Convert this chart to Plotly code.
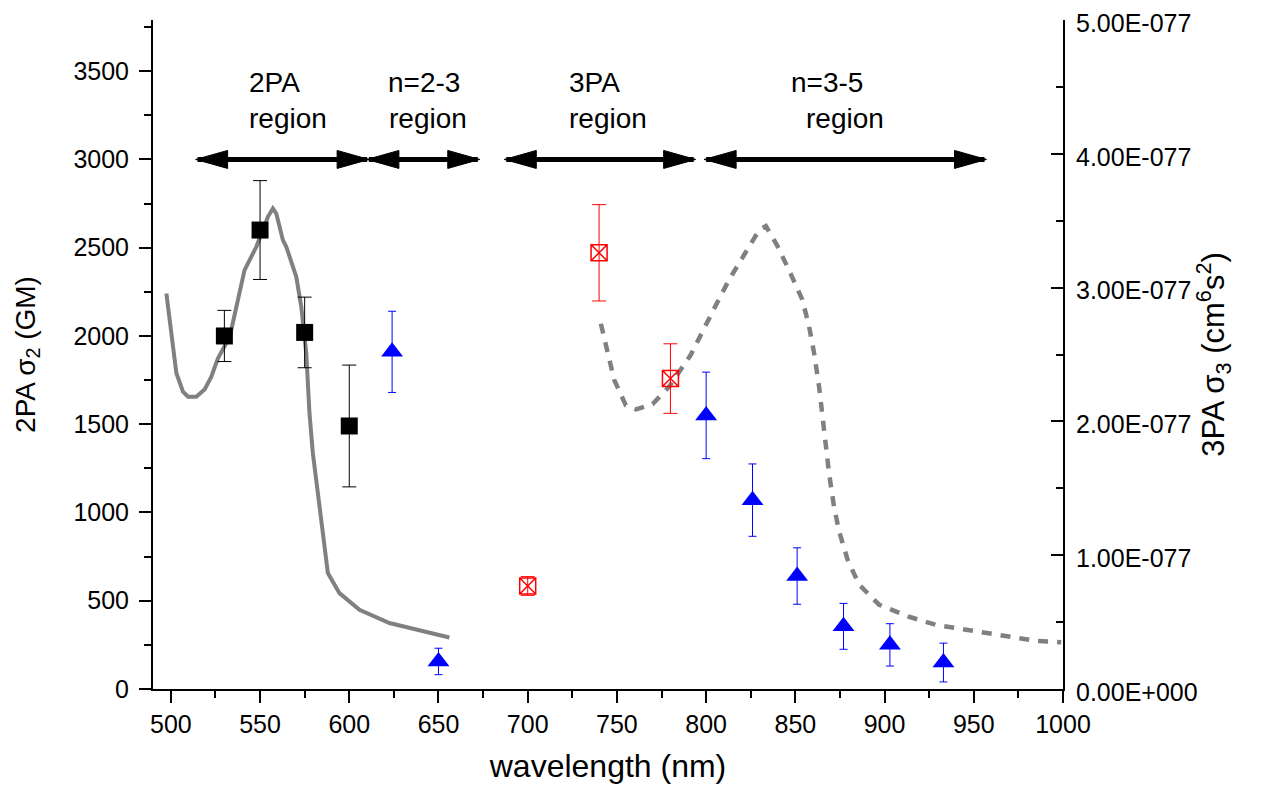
import plotly.graph_objects as go

# 2PA cross sections (GM), left axis
wl_2pa = [530, 550, 575, 600]
s2_2pa = [2000, 2600, 2020, 1490]
s2_2pa_err = [145, 280, 200, 345]

# intermediate region points (blue triangles), left axis
wl_mix = [624, 650, 800, 826, 851, 877, 903, 933]
s2_mix = [1910, 156, 1550, 1070, 640, 355, 250, 150]
s2_mix_err = [230, 75, 245, 205, 160, 130, 120, 110]

# 3PA cross sections, right axis (units of 1e-77 cm^6 s^2)
wl_3pa = [700, 740, 780]
s3_3pa = [0.77, 3.26, 2.32]
s3_3pa_err = [0.07, 0.36, 0.26]

# 2PA spectrum (solid grey line), left axis
spec2_wl = [497.5, 500.3, 503.1, 506.8, 509.6, 514.3, 519.0, 522.7, 526.4, 533.0,
            541.3, 547.9, 554.4, 557.2, 559.1, 562.8, 564.7, 570.3, 573.1, 575.9,
            577.7, 579.6, 581.5, 584.3, 588.0, 594.5, 605.7, 622.5, 637.5, 656.1]
spec2_val = [2241, 2034, 1789, 1684, 1656, 1656, 1698, 1769, 1873, 1996,
             2373, 2505, 2675, 2722, 2694, 2543, 2505, 2335, 2165, 1902,
             1562, 1336, 1185, 920, 657, 543, 449, 374, 336, 292]

# 3PA spectrum (dashed grey line), right axis
spec3_wl = [741, 744.8, 748.5, 755, 760.7, 770, 779.3, 791.5, 798, 805.5,
            812.9, 822.3, 829.7, 833.5, 840, 847.5, 853.9, 857.7, 860.5, 863.3,
            866.1, 868.9, 871.7, 874.5, 879.2, 885.7, 896.9, 913.7, 928.6, 941.7,
            956.6, 970.6, 984.6, 999]
spec3_val = [2.73, 2.51, 2.31, 2.12, 2.09, 2.13, 2.26, 2.50, 2.68, 2.87,
             3.06, 3.26, 3.43, 3.46, 3.31, 3.10, 2.91, 2.71, 2.51, 2.26,
             1.91, 1.61, 1.36, 1.18, 0.97, 0.78, 0.63, 0.54, 0.48, 0.45,
             0.42, 0.39, 0.36, 0.35]

# region arrows at 3000 GM and their two-line labels
region_names = ["2PA", "n=2-3", "3PA", "n=3-5"]
region_start = [515, 611, 688, 800]
region_end = [610, 672, 793, 956]
name_x = [542.5, 620.3, 722.2, 846.4]
word_x = [542.5, 621.4, 722.2, 854.8]
arrow_y = 3000
name_y = 3437
word_y = 3233

y2_ticks = [0, 1, 2, 3, 4, 5]
y2_ticktext = ["0.00E+000", "1.00E-077", "2.00E-077", "3.00E-077", "4.00E-077", "5.00E-077"]

FONT = "Liberation Sans, Arial, sans-serif"
GREY = "#808080"

fig = go.Figure()

fig.add_trace(go.Scatter(x=spec2_wl, y=spec2_val, mode="lines",
                         line=dict(color=GREY, width=4), yaxis="y"))
fig.add_trace(go.Scatter(x=spec3_wl, y=spec3_val, mode="lines",
                         line=dict(color=GREY, width=4.5, dash="10px,9px"), yaxis="y2"))

fig.add_trace(go.Scatter(x=wl_2pa, y=s2_2pa, mode="markers",
                         marker=dict(symbol="square", size=17, color="black"),
                         error_y=dict(type="data", array=s2_2pa_err, color="black",
                                      thickness=1, width=7)))
fig.add_trace(go.Scatter(x=wl_mix, y=s2_mix, mode="markers",
                         marker=dict(symbol="triangle-up", size=19, color="blue"),
                         error_y=dict(type="data", array=s2_mix_err, color="blue",
                                      thickness=1, width=4)))
fig.add_trace(go.Scatter(x=wl_3pa, y=s3_3pa, mode="markers", yaxis="y2",
                         marker=dict(symbol="square-x-open", size=16, color="red",
                                     line=dict(color="red", width=1.5)),
                         error_y=dict(type="data", array=s3_3pa_err, color="red",
                                      thickness=1, width=7)))

# double-headed arrows: shaft as a line, heads as pixel-sized shapes anchored at the ends
for name, x0, x1, nx, wx in zip(region_names, region_start, region_end, name_x, word_x):
    fig.add_trace(go.Scatter(x=[x0, x1], y=[arrow_y, arrow_y], mode="lines",
                             line=dict(color="black", width=5)))
    fig.add_shape(type="path", xref="x", yref="y", xsizemode="pixel", ysizemode="pixel",
                  xanchor=x0, yanchor=arrow_y, path="M-2,0 L30,9 L30,-9 Z",
                  fillcolor="black", line=dict(color="black", width=1))
    fig.add_shape(type="path", xref="x", yref="y", xsizemode="pixel", ysizemode="pixel",
                  xanchor=x1, yanchor=arrow_y, path="M2,0 L-30,9 L-30,-9 Z",
                  fillcolor="black", line=dict(color="black", width=1))
    fig.add_annotation(x=nx, y=name_y, xref="x", yref="y", text=name, xanchor="left",
                       showarrow=False, font=dict(family=FONT, size=28, color="black"))
    fig.add_annotation(x=wx, y=word_y, xref="x", yref="y", text="region", xanchor="left",
                       showarrow=False, font=dict(family=FONT, size=28, color="black"))

axis_common = dict(showline=True, linewidth=2, linecolor="black", showgrid=False,
                   zeroline=False, tickwidth=2, tickcolor="black", automargin=False,
                   ticklabeloverflow="allow",
                   tickfont=dict(family=FONT, size=25, color="black"))

# page body has an 8px margin, so the figure is a little smaller than the window
fig.update_layout(
    width=1245, height=778,
    margin=dict(l=145, r=190, t=12, b=97),
    paper_bgcolor="white", plot_bgcolor="white",
    showlegend=False,
    xaxis=dict(range=[490, 1000], tickvals=list(range(500, 1001, 50)),
               ticks="outside", ticklen=12,
               minor=dict(dtick=25, ticks="outside", ticklen=7, tickwidth=2, tickcolor="black"),
               title=dict(text="wavelength (nm)", font=dict(family=FONT, size=32, color="black"),
                          standoff=18),
               **axis_common),
    xaxis2=dict(range=[490, 1000], overlaying="x", side="top",
                tickvals=list(range(500, 1001, 50)), ticks="inside", ticklen=12,
                showticklabels=False,
                minor=dict(dtick=25, ticks="inside", ticklen=7, tickwidth=2, tickcolor="black"),
                **axis_common),
    yaxis=dict(range=[0, 3790], tickvals=list(range(0, 3501, 500)),
               ticks="outside", ticklen=12, ticklabelstandoff=5,
               minor=dict(dtick=250, ticks="outside", ticklen=7, tickwidth=2, tickcolor="black"),
               title=dict(text="2PA σ<sub>2</sub> (GM)", font=dict(family=FONT, size=28, color="black"),
                          standoff=30),
               **axis_common),
    yaxis2=dict(range=[0, 5], overlaying="y", side="right",
                tickvals=y2_ticks, ticktext=y2_ticktext,
                ticks="inside", ticklen=12, ticklabelstandoff=6, ticklabelshift=3,
                minor=dict(dtick=0.5, ticks="inside", ticklen=7, tickwidth=2, tickcolor="black"),
                title=dict(text="3PA σ<sub>3</sub> (cm<sup>6</sup>s<sup>2</sup>)",
                           font=dict(family=FONT, size=31, color="black"), standoff=0),
                **axis_common),
)

fig.write_html("out.html")
